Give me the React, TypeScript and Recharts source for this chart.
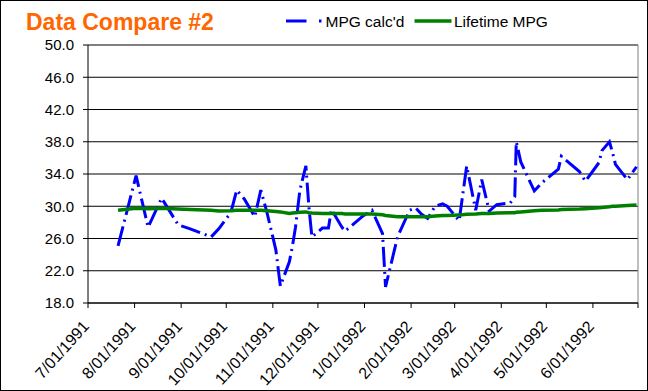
import React from 'react';
import { LineChart, Line, XAxis, YAxis, CartesianGrid, ReferenceLine } from 'recharts';

// fill-up dates (x position on the date axis)
const fillDates = [
  '1991-07-21', '1991-08-02', '1991-08-10', '1991-08-19', '1991-08-30', '1991-09-07',
  '1991-09-21', '1991-09-26', '1991-10-04', '1991-10-08', '1991-10-13', '1991-10-20',
  '1991-10-24', '1991-10-28', '1991-11-03', '1991-11-06', '1991-11-12', '1991-11-14',
  '1991-11-16', '1991-11-19', '1991-11-23', '1991-11-25', '1991-11-27', '1991-12-04',
  '1991-12-08', '1991-12-10', '1991-12-17', '1991-12-19', '1991-12-31', '1992-01-06',
  '1992-01-13', '1992-01-15', '1992-01-23', '1992-01-31', '1992-02-04', '1992-02-08',
  '1992-02-12', '1992-02-17', '1992-02-22', '1992-02-25', '1992-03-04', '1992-03-09',
  '1992-03-15', '1992-03-19', '1992-03-24', '1992-03-29', '1992-04-07', '1992-04-10',
  '1992-04-11', '1992-04-14', '1992-04-23', '1992-04-28', '1992-05-09', '1992-05-11',
  '1992-05-23', '1992-05-27', '1992-06-05', '1992-06-07', '1992-06-12', '1992-06-14',
  '1992-06-16', '1992-06-24', '1992-06-30',
];

const mpgCalc = [
  25.1, 33.8, 27.4, 31.0, 27.7, 27.2,
  26.2, 27.2, 29.2, 32.0, 30.9, 28.7,
  32.0, 29.3, 24.6, 20.1, 23.1, 25.0,
  27.3, 32.0, 35.0, 29.9, 26.2, 27.3,
  27.3, 29.6, 27.4, 26.9, 28.8, 29.5,
  26.6, 20.0, 26.2, 29.5, 29.8, 29.0,
  28.5, 30.0, 30.3, 30.0, 28.2, 35.0,
  29.5, 33.3, 29.4, 30.2, 30.4, 31.2,
  38.0, 35.5, 31.9, 32.9, 34.6, 36.2,
  34.3, 33.1, 35.4, 36.9, 38.0, 36.7,
  35.2, 33.3, 34.9,
];

const lifetimeMpg = [
  29.5, 29.75, 29.7, 29.75, 29.65, 29.6,
  29.5, 29.4, 29.45, 29.5, 29.5, 29.5,
  29.5, 29.45, 29.35, 29.3, 29.1, 29.15,
  29.2, 29.25, 29.3, 29.2, 29.15, 29.1,
  29.1, 29.1, 29.1, 29.05, 29.05, 29.05,
  28.95, 28.85, 28.7, 28.7, 28.7, 28.7,
  28.7, 28.8, 28.85, 28.85, 28.9, 29.0,
  29.05, 29.1, 29.1, 29.15, 29.2, 29.2,
  29.25, 29.3, 29.45, 29.5, 29.55, 29.6,
  29.65, 29.7, 29.8, 29.85, 29.95, 30.0,
  30.0, 30.1, 30.15,
];

const monthTicks = [
  '1991-07-01', '1991-08-01', '1991-09-01', '1991-10-01', '1991-11-01', '1991-12-01',
  '1992-01-01', '1992-02-01', '1992-03-01', '1992-04-01', '1992-05-01', '1992-06-01',
  '1992-07-01',
];

const yTicks = [18, 22, 26, 30, 34, 38, 42, 46, 50];

const FONT = "'Liberation Sans', Arial, sans-serif";

function toDay(s: string) {
  const [y, m, d] = s.split('-').map(Number);
  return Date.UTC(y, m - 1, d) / 86400000;
}

function formatDay(day: number) {
  const dt = new Date(day * 86400000);
  const m = dt.getUTCMonth() + 1;
  const d = String(dt.getUTCDate()).padStart(2, '0');
  return `${m}/${d}/${dt.getUTCFullYear()}`;
}

const tickDays = monthTicks.map(toDay);
const xStart = tickDays[0];
const xEnd = tickDays[tickDays.length - 1];

const data = fillDates.map((d, i) => ({
  t: toDay(d),
  mpg: mpgCalc[i],
  life: lifetimeMpg[i],
}));

function DateTick(props: any) {
  const { x, y, payload } = props;
  // Excel leaves the last tick unlabelled
  if (payload.value === xEnd) return null;
  const ax = x + 2;
  const ay = y + 17;
  return (
    <text
      x={ax}
      y={ay}
      transform={`rotate(-48, ${ax}, ${ay})`}
      textAnchor="end"
      fontSize={16}
      fontFamily={FONT}
      fill="#000"
    >
      {formatDay(payload.value)}
    </text>
  );
}

export default function App() {
  return (
    <div
      style={{
        position: 'absolute',
        left: 0,
        top: 0,
        width: 648,
        height: 391,
        background: '#fff',
        boxShadow: 'inset 0 0 0 1px #000',
      }}
    >
      <svg width={648} height={40} style={{ position: 'absolute', left: 0, top: 0 }}>
        <text x={26} y={30} fontSize={23} fontWeight="bold" fontFamily={FONT} fill="#FF6600">
          Data Compare #2
        </text>
        <line x1={286} y1={21} x2={306.5} y2={21} stroke="#0000FF" strokeWidth={3} />
        <rect x={319} y={19.5} width={2.5} height={3} fill="#0000FF" />
        <text x={325.5} y={26.5} fontSize={15.5} fontFamily={FONT} fill="#000">
          MPG calc'd
        </text>
        <line x1={414.5} y1={21} x2={451.5} y2={21} stroke="#008000" strokeWidth={3.5} />
        <text x={454} y={26.5} fontSize={15.5} fontFamily={FONT} fill="#000">
          Lifetime MPG
        </text>
      </svg>
      <div style={{ position: 'absolute', left: 0, top: 0 }}>
        <LineChart
          width={648}
          height={391}
          data={data}
          margin={{ top: 45, right: 10, bottom: 8, left: 28 }}
        >
          <CartesianGrid vertical={false} stroke="#000" strokeWidth={1} />
          <XAxis
            dataKey="t"
            type="number"
            domain={[xStart, xEnd]}
            ticks={tickDays}
            interval={0}
            height={80}
            tickSize={5}
            axisLine={{ stroke: '#000' }}
            tickLine={{ stroke: '#000' }}
            tick={<DateTick />}
          />
          <YAxis
            type="number"
            domain={[18, 50]}
            ticks={yTicks}
            interval={0}
            width={60}
            tickSize={5}
            tickMargin={9}
            axisLine={{ stroke: '#000' }}
            tickLine={{ stroke: '#000' }}
            tickFormatter={(v: number) => v.toFixed(1)}
            tick={{ fill: '#000', fontSize: 15, fontFamily: FONT }}
          />
          <ReferenceLine x={xEnd} stroke="#808080" strokeWidth={1} />
          <Line
            dataKey="mpg"
            name="MPG calc'd"
            type="linear"
            stroke="#0000FF"
            strokeWidth={3}
            strokeDasharray="20 5 2 5"
            dot={false}
            isAnimationActive={false}
          />
          <Line
            dataKey="life"
            name="Lifetime MPG"
            type="linear"
            stroke="#008000"
            strokeWidth={3.5}
            dot={false}
            isAnimationActive={false}
          />
        </LineChart>
      </div>
    </div>
  );
}
